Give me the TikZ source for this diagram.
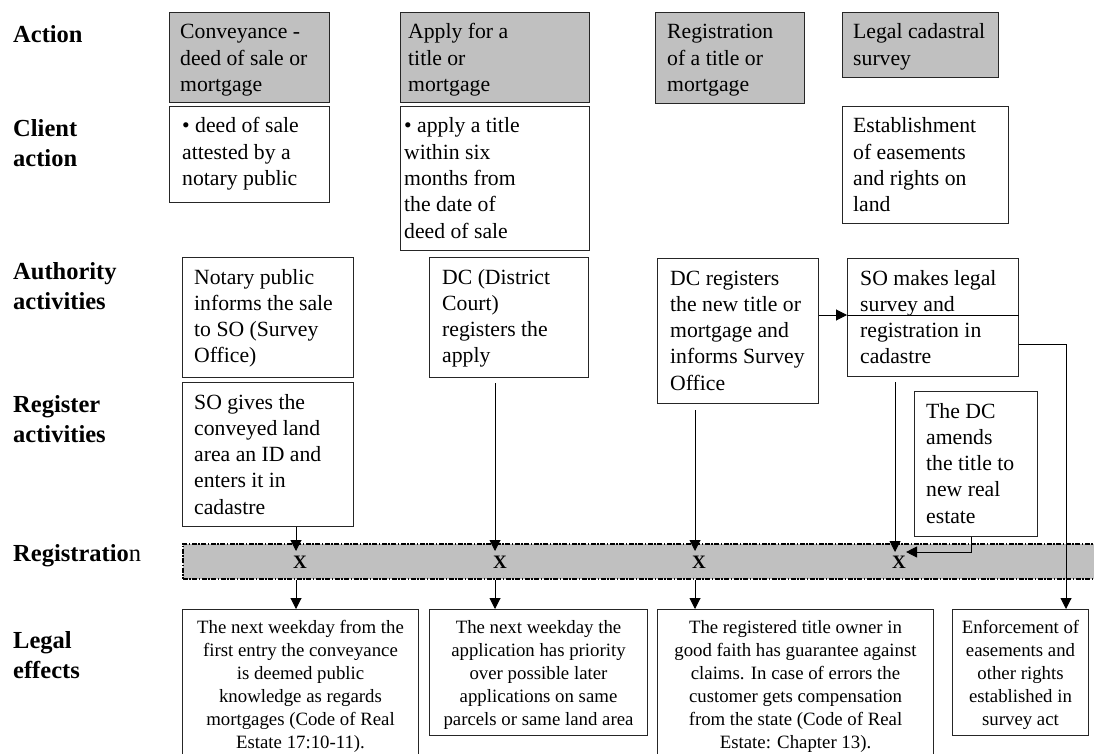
\documentclass[tikz,border=0pt]{standalone}
\usepackage{fontspec}
\setmainfont{Liberation Serif}
\usetikzlibrary{arrows.meta,calc}
\definecolor{actgray}{HTML}{C0C0C0}
\newcommand\boxfont{\fontsize{21.7}{26.3}\selectfont}
\newcommand\effectfont{\fontsize{18.8}{23}\selectfont}
\newcommand\rowfont{\fontsize{24.5}{29.5}\selectfont\bfseries}
\newcommand\markfont{\fontsize{19}{19}\selectfont\bfseries}
% stacked lines whose baseline is that of the first line
\newcommand\leftlines[1]{\begin{tabular}[t]{@{}l@{}}#1\end{tabular}}
\newcommand\midlines[1]{\begin{tabular}[t]{@{}c@{}}#1\end{tabular}}

\begin{document}
\begin{tikzpicture}[x=1pt,y=-1pt,
  frame/.style={draw=black!85, line width=1pt, anchor=north west, inner sep=0pt},
  actionbox/.style={frame, fill=actgray},
  txt/.style={anchor=base west, inner sep=0pt, font=\boxfont},
  efftxt/.style={anchor=base, inner sep=0pt, font=\effectfont},
  rowlabel/.style={anchor=west, align=left, inner sep=0pt, font=\rowfont},
  xmark/.style={inner sep=0pt, font=\markfont},
  arr/.style={-{Triangle[length=11pt,width=11pt]}, line width=1pt},
  regbar/.style={draw=black, line width=1.5pt, fill=actgray,
    dash pattern=on 5pt off 1.5pt on 1.5pt off 1.5pt,
    anchor=north west, inner sep=0pt},
]
\useasboundingbox (0,0) rectangle (1094,754);
\clip (0,0) rectangle (1094,754);

% row labels
\node[rowlabel, anchor=base west] (r1) at (13,43) {Action};
\node[rowlabel] (r2) at (13,143) {Client\\action};
\node[rowlabel] (r3) at (13,286) {Authority\\activities};
\node[rowlabel] (r4) at (13,419) {Register\\activities};
\node[rowlabel, anchor=base west] (r5) at (13,561) {Registratio\textmd{n}};
\node[rowlabel] (r6) at (13,655) {Legal\\effects};

% action row
\node[actionbox, minimum width=160pt, minimum height=90pt] (act1) at (169,12) {};
\node[txt] (act1t) at ([xshift=11pt, yshift=-27pt]act1.north west) {\leftlines{Conveyance -\\deed of sale or\\mortgage}};
\node[actionbox, minimum width=189pt, minimum height=90pt] (act2) at (400,12) {};
\node[txt] (act2t) at ([xshift=8pt, yshift=-27pt]act2.north west) {\leftlines{Apply for a\\title or\\mortgage}};
\node[actionbox, minimum width=149pt, minimum height=91pt] (act3) at (655,12) {};
\node[txt] (act3t) at ([xshift=12pt, yshift=-27pt]act3.north west) {\leftlines{Registration\\of a title or\\mortgage}};
\node[actionbox, minimum width=156pt, minimum height=65pt] (act4) at (842,12) {};
\node[txt] (act4t) at ([xshift=11pt, yshift=-27pt]act4.north west) {\leftlines{Legal cadastral\\survey}};

% client action row
\node[frame, minimum width=160pt, minimum height=96pt] (cli1) at (169,106) {};
\node[txt] (cli1t) at ([xshift=13pt, yshift=-27pt]cli1.north west) {\leftlines{• deed of sale\\attested by a\\notary public}};
\node[frame, minimum width=189pt, minimum height=144pt] (cli2) at (400,106) {};
\node[txt] (cli2t) at ([xshift=4pt, yshift=-27pt]cli2.north west) {\leftlines{• apply a title\\within six\\months from\\the date of\\deed of sale}};
\node[frame, minimum width=166pt, minimum height=117pt] (cli4) at (842,106) {};
\node[txt] (cli4t) at ([xshift=11pt, yshift=-27pt]cli4.north west) {\leftlines{Establishment\\of easements\\and rights on\\land}};

% authority activities row
\node[frame, minimum width=171pt, minimum height=120pt] (aut1) at (182,257) {};
\node[txt] (aut1t) at ([xshift=12pt, yshift=-27pt]aut1.north west) {\leftlines{Notary public\\informs the sale\\to SO (Survey\\Office)}};
\node[frame, minimum width=159pt, minimum height=120pt] (aut2) at (429,257) {};
\node[txt] (aut2t) at ([xshift=13pt, yshift=-27pt]aut2.north west) {\leftlines{DC (District\\Court)\\registers the\\apply}};
\node[frame, minimum width=161pt, minimum height=145pt] (aut3) at (657,258) {};
\node[txt] (aut3t) at ([xshift=13pt, yshift=-27pt]aut3.north west) {\leftlines{DC registers\\the new title or\\mortgage and\\informs Survey\\Office}};
\node[frame, minimum width=171pt, minimum height=118pt] (aut4) at (847,258) {};
\node[txt] (aut4t) at ([xshift=13pt, yshift=-27pt]aut4.north west) {\leftlines{SO makes legal\\survey and\\registration in\\cadastre}};

% register activities row
\node[frame, minimum width=171pt, minimum height=144pt] (reg1) at (182,382) {};
\node[txt] (reg1t) at ([xshift=12pt, yshift=-27pt]reg1.north west) {\leftlines{SO gives the\\conveyed land\\area an ID and\\enters it in\\cadastre}};
\node[frame, minimum width=123pt, minimum height=145pt] (reg4) at (914,391) {};
\node[txt] (reg4t) at ([xshift=12pt, yshift=-27pt]reg4.north west) {\leftlines{The DC\\amends\\the title to\\new real\\estate}};

% registration bar with entry marks
\node[regbar, minimum width=930pt, minimum height=35pt] (bar) at (182,543) {};
\node[xmark] (x1) at (300,562) {X};
\node[xmark] (x2) at (500,562) {X};
\node[xmark] (x3) at (699,562) {X};
\node[xmark] (x4) at (899,562) {X};

% legal effects row
\node[frame, minimum width=236pt, minimum height=160pt] (leg1) at (182,609) {};
\node[efftxt] (leg1t) at ([yshift=-24pt]leg1.north)
  {\midlines{The next weekday from the\\first entry the conveyance\\is deemed public\\knowledge as regards\\mortgages (Code of Real\\Estate 17:10-11).}};
\node[frame, minimum width=218pt, minimum height=126pt] (leg2) at (429,609) {};
\node[efftxt] (leg2t) at ([yshift=-24pt]leg2.north)
  {\midlines{The next weekday the\\application has priority\\over possible later\\applications on same\\parcels or same land area}};
\node[frame, minimum width=276pt, minimum height=160pt] (leg3) at (657,609) {};
\node[efftxt] (leg3t) at ([yshift=-24pt]leg3.north)
  {\midlines{The registered title owner in\\good faith has guarantee against\\claims. In case of errors the\\customer gets compensation\\from the state (Code of Real\\Estate: Chapter 13).}};
\node[frame, minimum width=136pt, minimum height=126pt] (leg4) at (952,609) {};
\node[efftxt] (leg4t) at ([yshift=-24pt]leg4.north)
  {\midlines{Enforcement of\\easements and\\other rights\\established in\\survey act}};

% connectors
\coordinate (c1) at (296,551);
\coordinate (c2) at (495,551);
\coordinate (c3) at (695,551);
\coordinate (c4) at (895,552);
\coordinate (h3) at (0,315);
\coordinate (e4) at (1066,344);
\coordinate (k4) at (971,552);

\draw[arr] (reg1.south -| c1) -- (c1);
\draw[arr, shorten <=5pt] (aut2.south -| c2) -- (c2);
\draw[arr, shorten <=6pt] (aut3.south -| c3) -- (c3);
\draw[arr, shorten <=5pt] (aut4.south -| c4) -- (c4);

\draw[arr] (bar.south -| c1) -- (leg1.north -| c1);
\draw[arr] (bar.south -| c2) -- (leg2.north -| c2);
\draw[arr] (bar.south -| c3) -- (leg3.north -| c3);

\draw[arr] (aut3.east |- h3) -- (aut4.west |- h3);
\draw[line width=1pt] (aut4.west |- h3) -- (aut4.east |- h3);
\draw[arr] (aut4.east |- e4) -- (e4) -- (leg4.north -| e4);
\draw[arr] (reg4.south -| k4) -- (k4) -- (x4.east |- k4);
\end{tikzpicture}
\end{document}
